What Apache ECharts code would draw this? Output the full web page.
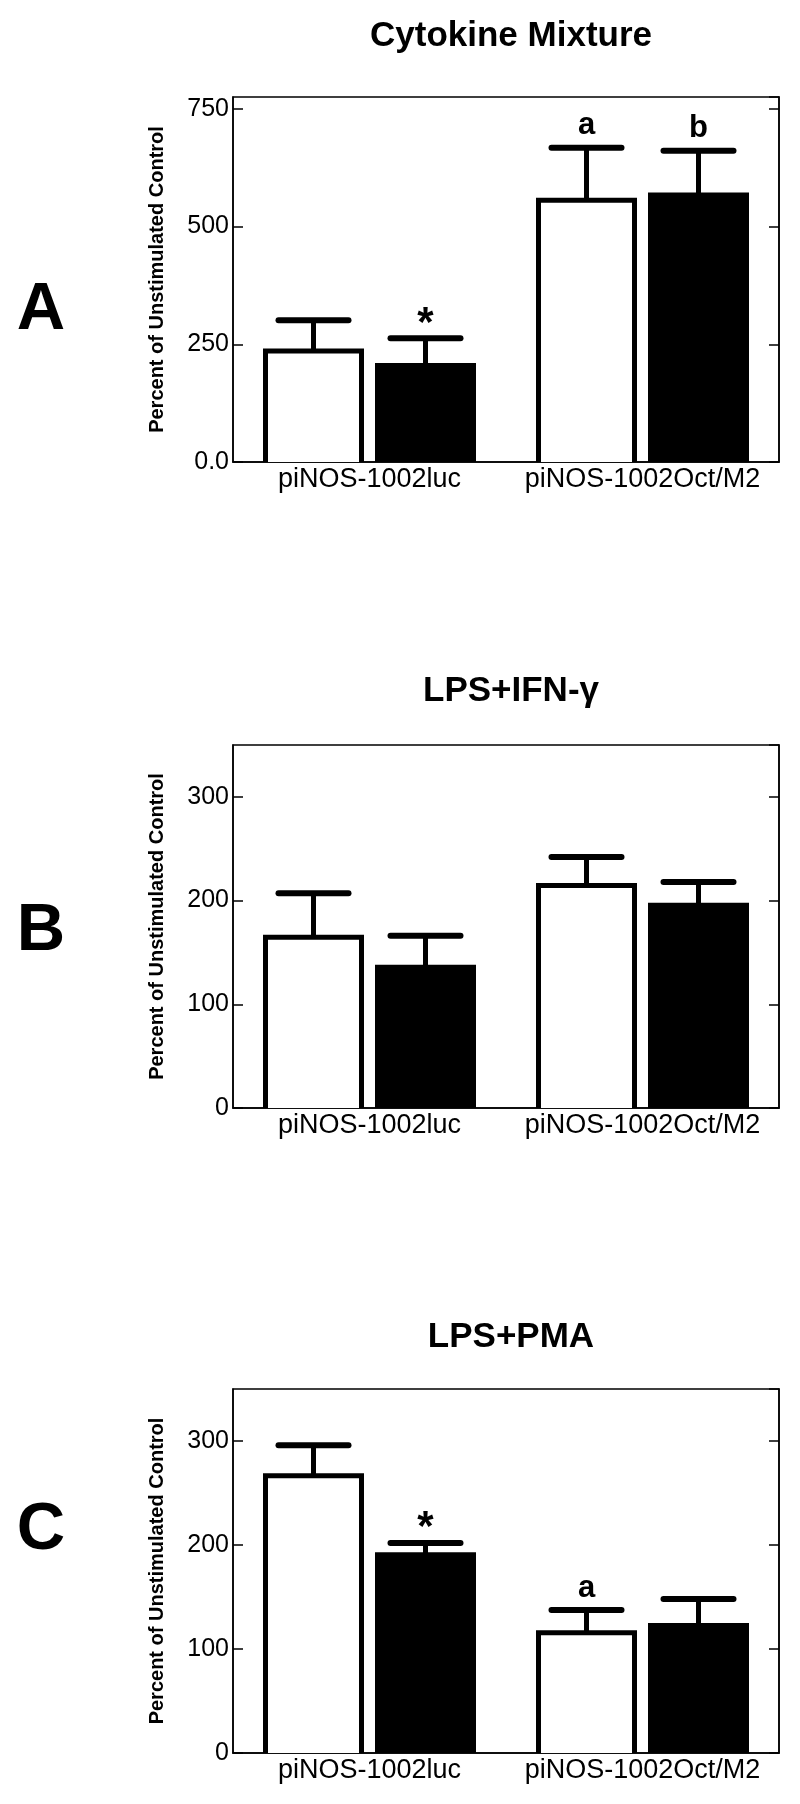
<!DOCTYPE html>
<html>
<head>
<meta charset="utf-8">
<script src="https://cdn.jsdelivr.net/npm/echarts@6/dist/echarts.min.js"></script>
<style>
  html, body { margin: 0; padding: 0; background: #fff; }
  #main { width: 800px; height: 1804px; }
</style>
</head>
<body>
<div id="main"></div>
<script>
const categories = ['piNOS-1002luc', 'piNOS-1002Oct/M2'];
const titles = ['Cytokine Mixture', 'LPS+IFN-γ', 'LPS+PMA'];
const panelLetters = ['A', 'B', 'C'];

// A: cytokine mixture
const whiteA = [241, 561];
const whiteErrA = [60, 106];
const blackA = [210, 572];
const blackErrA = [53, 89];
const whiteMarkA = ['', 'a'];
const blackMarkA = ['*', 'b'];
const ticksA = [0, 250, 500, 750];
const tickLabelsA = ['0.0', '250', '500', '750'];

// B: LPS + IFN-gamma
const whiteB = [167, 217];
const whiteErrB = [40, 25];
const blackB = [138, 198];
const blackErrB = [28, 20];
const whiteMarkB = ['', ''];
const blackMarkB = ['', ''];
const ticksB = [0, 100, 200, 300];
const tickLabelsB = ['0', '100', '200', '300'];

// C: LPS + PMA
const whiteC = [269, 118];
const whiteErrC = [27, 19.5];
const blackC = [193, 125];
const blackErrC = [9, 23];
const whiteMarkC = ['', 'a'];
const blackMarkC = ['*', ''];
const ticksC = [0, 100, 200, 300];
const tickLabelsC = ['0', '100', '200', '300'];

const FONT = 'Liberation Sans, Arial, Helvetica, sans-serif';
const BAR_W = 101;
const BAR_OFFSET = 56; // half distance between bar centres in a group
const CAP_W = 70;
const LINE_W = 5;

const panels = [
  { top: 97, height: 365, max: 775, interval: 250, ticks: ticksA, labels: tickLabelsA,
    white: whiteA, whiteErr: whiteErrA, black: blackA, blackErr: blackErrA, wm: whiteMarkA, bm: blackMarkA,
    titleTop: 14, letterY: 311 },
  { top: 745, height: 363, max: 350, interval: 100, ticks: ticksB, labels: tickLabelsB,
    white: whiteB, whiteErr: whiteErrB, black: blackB, blackErr: blackErrB, wm: whiteMarkB, bm: blackMarkB,
    titleTop: 669, letterY: 932 },
  { top: 1389, height: 364, max: 350, interval: 100, ticks: ticksC, labels: tickLabelsC,
    white: whiteC, whiteErr: whiteErrC, black: blackC, blackErr: blackErrC, wm: whiteMarkC, bm: blackMarkC,
    titleTop: 1315, letterY: 1531 }
];

// error bar (upper half only), optional outline for open bars, and significance mark
function errorRender(offset, outline) {
  return function (params, api) {
    const cat = api.value(0);
    const mean = api.value(1);
    const err = api.value(2);
    const mark = api.value(3);
    const base = api.coord([cat, mean]);
    const zero = api.coord([cat, 0]);
    const tip = api.coord([cat, mean + err]);
    const x = base[0] + offset;
    const yTop = base[1] + LINE_W / 2;
    const half = BAR_W / 2 - LINE_W / 2;
    const children = [];
    if (outline) {
      children.push({ type: 'polyline',
        shape: { points: [[x - half, zero[1]], [x - half, yTop], [x + half, yTop], [x + half, zero[1]]] },
        style: { stroke: '#000', lineWidth: LINE_W, fill: null, lineJoin: 'miter' } });
    }
    children.push({ type: 'line', shape: { x1: x, y1: yTop, x2: x, y2: tip[1] },
      style: { stroke: '#000', lineWidth: LINE_W } });
    children.push({ type: 'line', shape: { x1: x - CAP_W / 2, y1: tip[1], x2: x + CAP_W / 2, y2: tip[1] },
      style: { stroke: '#000', lineWidth: 6, lineCap: 'round' } });
    if (mark) {
      const star = mark === '*';
      children.push({ type: 'text', x: x, y: tip[1] - (star ? 14 : 22),
        style: { text: mark, fill: '#000', font: 'bold ' + (star ? 42 : 31) + 'px ' + FONT,
          align: 'center', verticalAlign: 'middle' } });
    }
    return { type: 'group', children: children };
  };
}

const grid = [], xAxis = [], yAxis = [], series = [], title = [], graphic = [];

panels.forEach((p, i) => {
  grid.push({ left: 233, right: 21, top: p.top, height: p.height, show: true,
    borderColor: '#000', borderWidth: 1.5, backgroundColor: 'transparent' });
  xAxis.push({ type: 'category', gridIndex: i, data: categories,
    axisLine: { lineStyle: { color: '#000', width: 1.5 } },
    axisTick: { show: false },
    axisLabel: { color: '#000', fontFamily: FONT, fontSize: 27, margin: 4, interval: 0 } });
  const labelMap = {};
  p.ticks.forEach((t, k) => { labelMap[t] = p.labels[k]; });
  const common = { type: 'value', gridIndex: i, min: 0, max: p.max, interval: p.interval,
    splitLine: { show: false },
    axisLine: { show: true, lineStyle: { color: '#000', width: 1.5 } },
    axisTick: { show: true, inside: true, length: 10, lineStyle: { color: '#000', width: 1.5 } } };
  yAxis.push(Object.assign({}, common, {
    position: 'left',
    name: 'Percent of Unstimulated Control', nameLocation: 'middle', nameGap: 66,
    nameTextStyle: { color: '#000', fontFamily: FONT, fontWeight: 'bold', fontSize: 20 },
    axisLabel: { color: '#000', fontFamily: FONT, fontSize: 25, margin: 4, showMaxLabel: false,
      formatter: v => (v in labelMap ? labelMap[v] : '') }
  }));
  yAxis.push(Object.assign({}, common, { position: 'right', axisLabel: { show: false } }));

  const xi = i, yi = i * 2;
  series.push({ type: 'bar', xAxisIndex: xi, yAxisIndex: yi, data: p.white,
    barWidth: BAR_W, barGap: ((2 * BAR_OFFSET - BAR_W) / BAR_W * 100) + '%',
    itemStyle: { color: '#fff' } });
  series.push({ type: 'bar', xAxisIndex: xi, yAxisIndex: yi, data: p.black,
    barWidth: BAR_W,
    itemStyle: { color: '#000' } });
  series.push({ type: 'custom', xAxisIndex: xi, yAxisIndex: yi, z: 3,
    renderItem: errorRender(-BAR_OFFSET, true),
    data: p.white.map((v, k) => [k, v, p.whiteErr[k], p.wm[k]]) });
  series.push({ type: 'custom', xAxisIndex: xi, yAxisIndex: yi, z: 3,
    renderItem: errorRender(BAR_OFFSET, false),
    data: p.black.map((v, k) => [k, v, p.blackErr[k], p.bm[k]]) });

  title.push({ text: titles[i], left: 506, top: p.titleTop, textAlign: 'center',
    textStyle: { color: '#000', fontFamily: FONT, fontWeight: 'bold', fontSize: 35 } });
  graphic.push({ type: 'text', x: 41, y: p.letterY,
    style: { text: panelLetters[i], fill: '#000', font: 'bold 67px ' + FONT, align: 'center', verticalAlign: 'middle' } });
});

const chart = echarts.init(document.getElementById('main'), null, { renderer: 'canvas' });
chart.setOption({
  backgroundColor: '#fff',
  animation: false,
  title: title,
  grid: grid,
  xAxis: xAxis,
  yAxis: yAxis,
  series: series,
  graphic: graphic
});
</script>
</body>
</html>
